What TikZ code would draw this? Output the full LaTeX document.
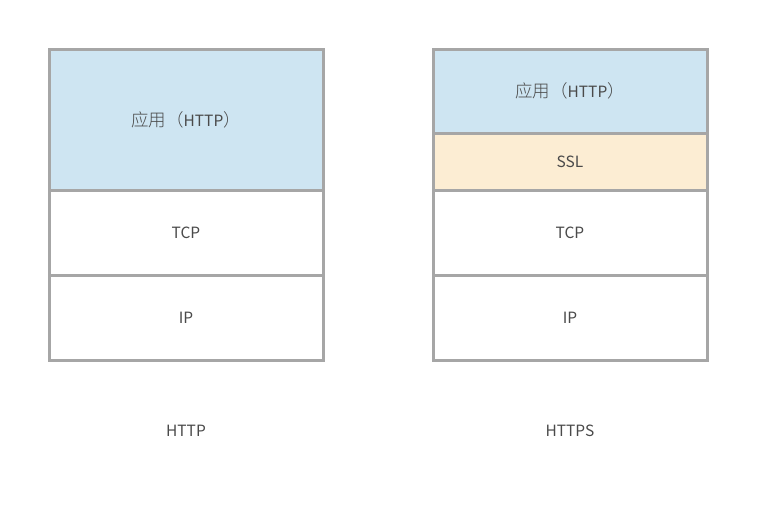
\documentclass[tikz,border=0pt]{standalone}
\usepackage{fontspec}
\setmainfont{Noto Sans CJK SC}
\newfontfamily\cjkfont{Noto Sans CJK SC Light}
\definecolor{edge}{HTML}{A6A6A6}
\definecolor{appblue}{HTML}{CEE5F2}
\definecolor{sslyellow}{HTML}{FCEDD3}
\definecolor{txt}{HTML}{4A4A4A}
\newcommand{\apptext}{{\cjkfont\fontsize{17.5pt}{18pt}\selectfont 应用（}HTTP{\cjkfont\fontsize{17.5pt}{18pt}\selectfont ）}}
\begin{document}
\begin{tikzpicture}[x=1pt,y=-1pt,
  layer/.style={draw=edge,line width=3pt,minimum width=274pt,inner sep=0pt,
    text=txt,font=\fontsize{15.5pt}{17pt}\selectfont},
  caption/.style={text=txt,font=\fontsize{15.5pt}{17pt}\selectfont}]
\useasboundingbox (0,0) rectangle (757,509);
% HTTP stack
\node[layer,fill=appblue,minimum height=141pt] (lapp) at (186,119.5) {\raisebox{-1pt}{\apptext}};
\node[layer,fill=white,minimum height=85pt] (ltcp) at (186,232.5) {TCP};
\node[layer,fill=white,minimum height=85pt] (lip) at (186,317.5) {IP};
\node[caption] (lcap) at (186,431) {HTTP};
% HTTPS stack
\node[layer,fill=appblue,minimum height=84pt] (rapp) at (570,91) {\raisebox{-1pt}{\apptext}};
\node[layer,fill=sslyellow,minimum height=57pt] (rssl) at (570,161.5) {SSL};
\node[layer,fill=white,minimum height=85pt] (rtcp) at (570,232.5) {TCP};
\node[layer,fill=white,minimum height=85pt] (rip) at (570,317.5) {IP};
\node[caption] (rcap) at (570,431) {HTTPS};
\end{tikzpicture}
\end{document}
